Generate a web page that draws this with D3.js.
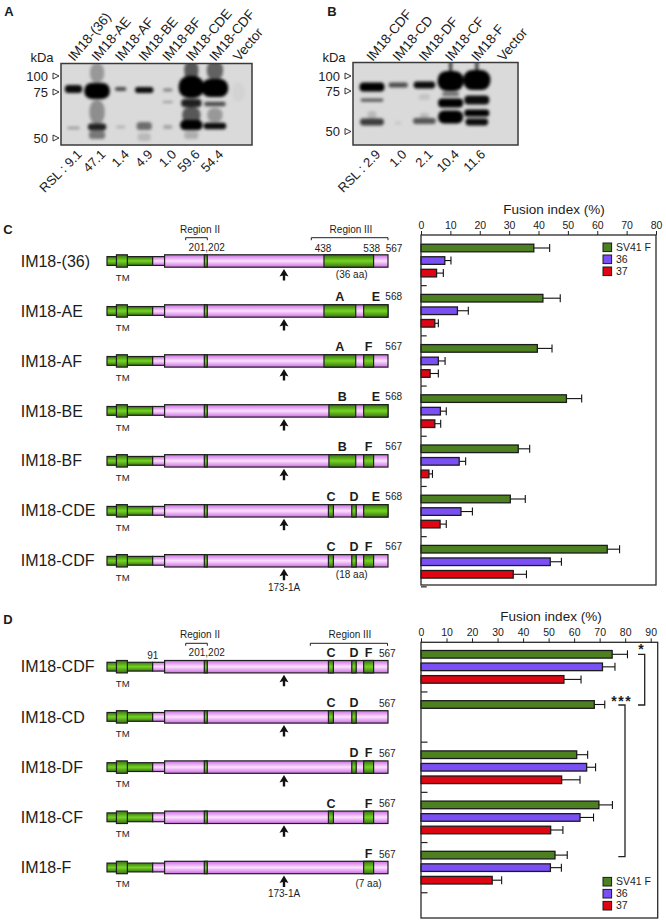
<!DOCTYPE html>
<html><head><meta charset="utf-8">
<script src="https://cdn.jsdelivr.net/npm/d3@7"></script>
<style>html,body{margin:0;padding:0;background:#fff}svg{display:block}text{font-family:"Liberation Sans",Arial,sans-serif;fill:#1c1c1c}</style>
</head><body><div id="c"></div>
<script>
// ---------- data ----------
const seriesNames = ["SV41 F", "36", "37"];
const seriesColors = ["#4c8021", "#7a50f5", "#dd0612"];

const constructsC = ["IM18-(36)", "IM18-AE", "IM18-AF", "IM18-BE", "IM18-BF", "IM18-CDE", "IM18-CDF"];
const domainsC = [["R3"], ["A","E"], ["A","F"], ["B","E"], ["B","F"], ["C","D","E"], ["C","D","F"]];
const endLabelsC = ["", "568", "567", "568", "567", "568", "567"];
const meansC = [[38.4,8.1,5.3],[41.5,12.4,4.7],[39.6,5.9,3.1],[49.5,6.6,4.7],[33.1,13,2.7],[30.4,13.6,6.5],[63.4,44,31.4]];
const upperC = [[43.8,10.2,7.6],[47.4,16.1,5.9],[44.6,8.2,5.9],[54.7,8.6,6.7],[37,15.2,3.9],[35.5,17.5,8.6],[67.6,47.8,35.9]];

const constructsD = ["IM18-CDF", "IM18-CD", "IM18-DF", "IM18-CF", "IM18-F"];
const domainsD = [["C","D","F"], ["C","D"], ["D","F"], ["C","F"], ["F"]];
const meansD = [[74.9,71.1,56],[67.9,null,null],[61,64.9,55.1],[69.7,62.3,50.8],[52.5,50.7,27.9]];
const upperD = [[80.9,76,62.7],[72,null,null],[65.3,68.4,62.3],[75,67.6,55.6],[57.3,55,31.6]];

const ticksC = d3.range(0, 81, 10);
const ticksD = d3.range(0, 91, 10);

// residue boundaries of the construct drawing
const residueRange = [1, 567];
const nTerm = [1, 93];
const tmDomain = [20, 42];
const body = [117, 567];
const regionIIStripe = [197, 203];
const cutSite = 357.5;
const domainResidues = {R3:[438,538],A:[438,502],B:[448,502],C:[447,457],D:[494,503],E:[518,567],F:[518,538]};

// blots: [lane, kDa, half width in lane pitches, thickness, density]
const lanesA = ["IM18-(36)","IM18-AE","IM18-AF","IM18-BE","IM18-BF","IM18-CDE","IM18-CDF","Vector"];
const rslA = ["RSL : 9.1","47.1","1.4","4.9","1.0","59.6","54.4"];
const bandsA = [
 [0,79.7,.34,4,.95],[0,55.4,.24,1.2,.3],
 [1,104.7,.28,10,.3],[1,64.1,.3,12,.35],[1,76.6,.5,8,1],[1,56,.36,3.5,.85],[1,51.6,.32,4,.45],
 [2,79.7,.22,2,.65],[2,56,.18,1.2,.2],
 [3,78.1,.36,3,.95],[3,56.5,.3,4,.5],[3,50.5,.26,4,.15],
 [4,78.1,.18,1.6,.42],[4,69.6,.2,1,.3],[4,56,.18,2,.25],
 [5,109,.28,10,.6],[5,69,.4,4,.85],[5,62.5,.36,8,.6],[5,57,.44,5,1],[5,51.6,.28,4,.2],[5,82.8,.5,11,1],
 [6,109,.32,10,.55],[6,68.5,.42,2.2,.65],[6,62.5,.3,7,.3],[6,56.5,.44,3.2,.95],[6,81.2,.52,9,1],
 [7,75,.25,10,.03]
];
const lanesB = ["IM18-CDF","IM18-CD","IM18-DF","IM18-CF","IM18-F","Vector"];
const rslB = ["RSL : 2.9","1.0","2.1","10.4","11.6"];
const bandsB = [
 [0,81.7,.44,4.5,1],[0,69.4,.4,1.6,.6],[0,55.9,.42,3.5,.72],[0,60.2,.16,4,.15],
 [1,85,.34,2.5,.65],[1,55.2,.12,2,.07],
 [2,85,.38,3.5,.95],[2,71.3,.2,3,.1],[2,56.5,.4,3,.6],[2,59.6,.16,3,.15],
 [3,91.7,.46,10,1],[3,116.7,.06,9,.7],[3,73.1,.3,2,.5],[3,67.6,.44,4.5,1],[3,59,.44,6.5,1],
 [4,93.3,.48,10,1],[4,116.7,.06,9,.7],[4,69.4,.44,4.5,.95],[4,61.4,.44,3.5,1],[4,55.9,.4,3.5,.95]
];

// ---------- page ----------
const W = 666, H = 924, INK = "#1f1f1f";
const svg = d3.select("#c").append("svg").attr("width", W).attr("height", H).attr("viewBox", `0 0 ${W} ${H}`);
const defs = svg.append("defs");
function grad(id, edge, mid) {
  const g = defs.append("linearGradient").attr("id", id).attr("x1", 0).attr("x2", 0).attr("y1", 0).attr("y2", 1);
  [[0, edge],[.5, mid],[1, edge]].forEach(s => g.append("stop").attr("offset", s[0]).attr("stop-color", s[1]));
}
grad("gGreen", "#3a7314", "#74d422");
grad("gPink", "#cc6ee2", "#fde0ff");
defs.append("filter").attr("id", "blur").attr("x", "-30%").attr("y", "-60%").attr("width", "160%").attr("height", "220%")
  .append("feGaussianBlur").attr("stdDeviation", 1.5);

function label(g, x, y, s, size, opt = {}) {
  return g.append("text").attr("x", x).attr("y", y).attr("dy", ".35em")
    .attr("text-anchor", opt.anchor || "middle").attr("font-size", size)
    .attr("font-weight", opt.bold ? 700 : 400).text(s);
}
[["A",9,11],["B",332,11],["C",8,229],["D",8,619]].forEach(d => label(svg, d[1], d[2], d[0], 13, {bold:true}));

// ---------- blots ----------
function blot(o) {
  const g = svg.append("g");
  const id = "clip" + o.key;
  defs.append("clipPath").attr("id", id).append("rect").attr("x", o.x0).attr("y", o.y0).attr("width", o.x1 - o.x0).attr("height", o.y1 - o.y0);
  const lane = d3.scalePoint().domain(d3.range(o.lanes.length)).range(o.laneRange);
  const kd = d3.scaleLinear().domain([100,75,50]).range(o.kdaY);
  g.append("rect").attr("x", o.x0).attr("y", o.y0).attr("width", o.x1 - o.x0).attr("height", o.y1 - o.y0).attr("fill", "#dadada");
  const halfW = d => d[2] * lane.step() * 1.08;
  g.append("g").attr("clip-path", `url(#${id})`).append("g").attr("filter", "url(#blur)")
    .selectAll("rect").data(o.bands).join("rect")
    .attr("x", d => lane(d[0]) - halfW(d)).attr("width", d => 2 * halfW(d))
    .attr("y", d => kd(d[1]) - d[3]).attr("height", d => 2 * d[3])
    .attr("rx", d => Math.min(halfW(d), d[3]) * .9).attr("ry", d => d[3] * .9)
    .attr("fill", "#000").attr("opacity", d => d[4]);
  g.append("rect").attr("x", o.x0).attr("y", o.y0).attr("width", o.x1 - o.x0).attr("height", o.y1 - o.y0)
    .attr("fill", "none").attr("stroke", "#3a3a3a").attr("stroke-width", 1.5);
  o.lanes.forEach((s, i) => g.append("text").attr("transform", `translate(${lane(i) - 3},59) rotate(-50)`)
    .attr("font-size", 13.5).attr("dy", ".35em").text(s));
  o.rsl.forEach((s, i) => g.append("text").attr("transform", `translate(${lane(i) + 6},152) rotate(-45)`)
    .attr("font-size", 13).attr("text-anchor", "end").attr("dy", ".35em").text(s));
  label(g, o.kdaX, 57, "kDa", 13);
  [100,75,50].forEach(k => {
    label(g, o.x0 - 13, kd(k), k, 13, {anchor:"end"});
    const p = d3.path(); const r = o.x0 - 2, l = o.x0 - 8;
    p.moveTo(l, kd(k) - 3); p.lineTo(r, kd(k)); p.lineTo(l, kd(k) + 3); p.closePath();
    g.append("path").attr("d", p).attr("fill", "#fff").attr("stroke", INK).attr("stroke-width", .9);
  });
}
blot({key:"A", lanes:lanesA, rsl:rslA, bands:bandsA, x0:61, x1:252, y0:63.5, y1:145, laneRange:[73.5,238.5], kdaY:[76,92,138], kdaX:42});
blot({key:"B", lanes:lanesB, rsl:rslB, bands:bandsB, x0:353, x1:518, y0:62.5, y1:145, laneRange:[372,503], kdaY:[76,91,131.5], kdaX:334});

// ---------- construct drawings ----------
const aa = d3.scaleLinear().domain(residueRange).range([107, 388]);
function construct(g, cy, doms) {
  const box = (r, half, fill) => g.append("rect").attr("x", aa(r[0])).attr("width", aa(r[1]) - aa(r[0]))
    .attr("y", cy - half).attr("height", 2 * half).attr("fill", fill).attr("stroke", INK).attr("stroke-width", 1.2);
  box(nTerm, 4.4, "url(#gGreen)");
  box([nTerm[1], body[0]], 4.4, "url(#gPink)");
  box(tmDomain, 6.2, "url(#gGreen)");
  box(body, 6.2, "url(#gPink)");
  box(regionIIStripe, 6.2, "url(#gGreen)");
  doms.forEach(k => box(domainResidues[k], 6.2, "url(#gGreen)"));
  const x = aa(cutSite), p = d3.path();
  p.moveTo(x, cy + 8); p.lineTo(x + 4.5, cy + 15.5); p.lineTo(x + 1.2, cy + 14.5); p.lineTo(x + 1.2, cy + 19.5);
  p.lineTo(x - 1.2, cy + 19.5); p.lineTo(x - 1.2, cy + 14.5); p.lineTo(x - 4.5, cy + 15.5); p.closePath();
  g.append("path").attr("d", p).attr("fill", "#111");
  label(g, 122.7, cy + 16.5, "TM", 9.5);
}
function bracket(g, x0, x1, y) {
  g.append("path").attr("d", `M${x0},${y + 2.5}V${y}H${x1}V${y + 2.5}`).attr("fill", "none").attr("stroke", INK).attr("stroke-width", 1);
}
// panel C
const rowC = d3.scaleLinear().domain([0, 6]).range([261, 560.8]);
const gC = svg.append("g");
constructsC.forEach((name, i) => {
  const cy = rowC(i);
  label(gC, 20.7, cy, name, 16, {anchor:"start"});
  construct(gC, cy, domainsC[i]);
  domainsC[i].forEach(k => { if (k !== "R3") label(gC, (aa(domainResidues[k][0]) + aa(domainResidues[k][1])) / 2, cy - 14, k, 12.5, {bold:true}); });
  if (endLabelsC[i]) label(gC, 393.7, cy - 14, endLabelsC[i], 10);
});
label(gC, 200, 229, "Region II", 10);
bracket(gC, 185.7, 207.3, 237.7);
label(gC, 206.7, 247.7, "201,202", 10);
label(gC, 351, 229, "Region III", 10);
bracket(gC, 311.3, 388, 237.7);
label(gC, 323, 248, "438", 10); label(gC, 371.7, 248, "538", 10); label(gC, 394, 248, "567", 10);
label(gC, 351.7, 274.5, "(36 aa)", 10);
label(gC, 351.7, 574, "(18 aa)", 10);
label(gC, 284, 587, "173-1A", 10);

// panel D
const rowD = d3.scaleLinear().domain([0, 4]).range([666.7, 867.5]);
const gD = svg.append("g");
constructsD.forEach((name, i) => {
  const cy = rowD(i);
  label(gD, 20.7, cy, name, 16, {anchor:"start"});
  construct(gD, cy, domainsD[i]);
  domainsD[i].forEach(k => label(gD, (aa(domainResidues[k][0]) + aa(domainResidues[k][1])) / 2, cy - 14, k, 12.5, {bold:true}));
  label(gD, 387.3, cy - 13.5, "567", 10);
});
label(gD, 152.7, 655, "91", 10);
label(gD, 200, 634, "Region II", 10);
bracket(gD, 185.7, 207.3, 643.3);
label(gD, 206.7, 652.5, "201,202", 10);
label(gD, 350, 634, "Region III", 10);
bracket(gD, 310.3, 387.5, 643.3);
label(gD, 368.5, 883.5, "(7 aa)", 10);
label(gD, 284, 893.5, "173-1A", 10);

// ---------- bar charts ----------
function barChart(o) {
  const g = svg.append("g");
  const x = d3.scaleLinear().domain([0, o.max]).range([421, o.xMax]);
  const slot = d3.scaleLinear().domain([0, 4]).range(o.ySlots);
  const barH = 7.6;
  const rows = o.means.flatMap((vals, i) => vals.map((v, j) => ({v, j, i, up: o.upper[i][j]}))).filter(d => d.v !== null);
  const eb = g.selectAll("g.eb").data(rows).join("g");
  eb.append("line").attr("x1", d => x(d.v)).attr("x2", d => x(d.up))
    .attr("y1", d => slot(d.i * 4 + d.j)).attr("y2", d => slot(d.i * 4 + d.j)).attr("stroke", "#111").attr("stroke-width", 1.1);
  eb.append("line").attr("x1", d => x(d.up)).attr("x2", d => x(d.up))
    .attr("y1", d => slot(d.i * 4 + d.j) - 4).attr("y2", d => slot(d.i * 4 + d.j) + 4).attr("stroke", "#111").attr("stroke-width", 1.1);
  g.selectAll("rect.bar").data(rows).join("rect").attr("class", "bar")
    .attr("x", x(0)).attr("width", d => x(d.v) - x(0))
    .attr("y", d => slot(d.i * 4 + d.j) - barH / 2).attr("height", barH)
    .attr("fill", d => seriesColors[d.j]).attr("stroke", "#1b1b1b").attr("stroke-width", 1.3);
  g.selectAll("line.it").data(d3.range(o.means.length)).join("line")
    .attr("x1", 421).attr("x2", o.innerTick).attr("y1", i => slot(i * 4 + 3)).attr("y2", i => slot(i * 4 + 3))
    .attr("stroke", "#222").attr("stroke-width", 1.2);
  g.append("rect").attr("x", 421).attr("y", o.top).attr("width", o.right - 421).attr("height", o.bottom - o.top)
    .attr("fill", "none").attr("stroke", "#2a2a2a").attr("stroke-width", 1.3);
  const ax = g.append("g").attr("transform", `translate(0,${o.top})`)
    .call(d3.axisTop(x).tickValues(o.ticks).tickSize(4).tickPadding(2).tickSizeOuter(0));
  ax.select(".domain").remove();
  ax.selectAll("line").attr("stroke", "#222").attr("stroke-width", 1);
  ax.selectAll("text").attr("font-size", 10.5).attr("font-family", '"Liberation Sans",Arial,sans-serif').style("fill", "#1c1c1c");
  label(g, o.titleX, o.titleY, "Fusion index (%)", 13.5);
  seriesNames.forEach((s, i) => {
    const y = o.legendY + i * 12;
    g.append("rect").attr("x", 603).attr("y", y - 4.3).attr("width", 8.6).attr("height", 8.6)
      .attr("fill", seriesColors[i]).attr("stroke", "#1b1b1b").attr("stroke-width", 1);
    label(g, 616, y, s, 10.5, {anchor:"start"});
  });
  return g;
}
barChart({means:meansC, upper:upperC, max:80, xMax:656, ticks:ticksC, ySlots:[248,298.2], top:235, bottom:585, right:656, innerTick:426.7, titleX:554, titleY:209, legendY:247.3});
const dg = barChart({means:meansD, upper:upperD, max:90, xMax:650.7, ticks:ticksD, ySlots:[654.3,704.5], top:642.3, bottom:918, right:657.7, innerTick:427.5, titleX:551, titleY:616.7, legendY:881.7});
dg.append("path").attr("d", "M638,654.3H644.7V705H638").attr("fill", "none").attr("stroke", "#222").attr("stroke-width", 1.3);
dg.append("path").attr("d", "M618.3,705H625V856.7H618.3").attr("fill", "none").attr("stroke", "#222").attr("stroke-width", 1.3);
dg.append("text").attr("x", 641).attr("y", 654).attr("text-anchor", "middle").attr("font-size", 14).attr("font-weight", 700).text("*");
dg.append("text").attr("x", 621.7).attr("y", 706).attr("text-anchor", "middle").attr("font-size", 14).attr("font-weight", 700).attr("letter-spacing", 1.5).text("***");
</script></body></html>
